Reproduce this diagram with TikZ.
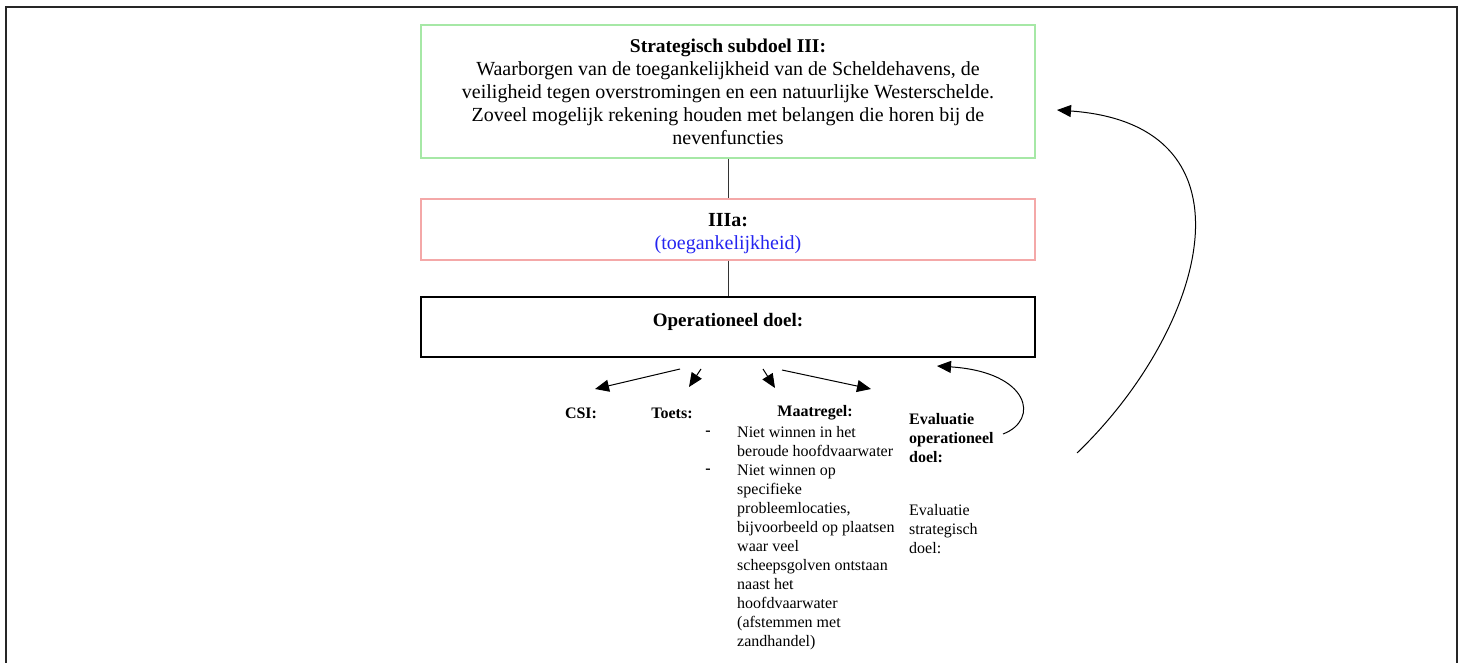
\documentclass[tikz,border=0pt]{standalone}
\usepackage{fontspec}
\setmainfont{Liberation Serif}
\usetikzlibrary{arrows.meta}
\definecolor{boxgreen}{HTML}{A6E8A6}
\definecolor{boxred}{HTML}{F4A8A8}
\definecolor{textblue}{HTML}{2424F0}
\tikzset{
  frame/.style={line width=2.4pt, draw=black!85},
  goalbox/.style={minimum width=614pt, inner sep=0pt, line width=1.4pt},
  link/.style={line width=0.9pt, draw=black!80},
  tri/.style={-{Triangle[length=14pt,width=12pt]}, line width=1pt},
  boxtext/.style={inner sep=0pt, align=center, font=\fontsize{20}{23}\selectfont},
  smalltext/.style={inner sep=0pt, align=left, font=\fontsize{16}{19}\selectfont},
  smallbold/.style={smalltext, font=\fontsize{16}{19}\selectfont\bfseries},
}
\begin{document}
\begin{tikzpicture}[x=1pt,y=-1pt]
\useasboundingbox (0,0) rectangle (1462,663);
% page frame, open at the bottom
\draw[frame] (6,663) -- (6,7) -- (1457,7) -- (1457,663);

% goal boxes
\node[goalbox, draw=boxgreen, minimum height=133pt] (strat) at (728,91.5) {};
\node[goalbox, draw=boxred, minimum height=61pt] (sub) at (728,229.5) {};
\node[goalbox, draw=black, line width=1.8pt, minimum height=60pt] (oper) at (728,327) {};

\node[boxtext, anchor=north] (strattxt) at (728,39) {{\fontsize{19.5}{23}\selectfont\bfseries Strategisch subdoel III:}\\
Waarborgen van de toegankelijkheid van de Scheldehavens, de\\
veiligheid tegen overstromingen en een natuurlijke Westerschelde.\\
Zoveel mogelijk rekening houden met belangen die horen bij de\\
nevenfuncties};
\node[boxtext, anchor=north] (subtxt) at (728,213) {\textbf{IIIa:}\\\textcolor{textblue}{(toegankelijkheid)}};
\node[boxtext, anchor=north, font=\fontsize{19}{23}\selectfont\bfseries] (opertxt) at (728,313) {Operationeel doel:};

\draw[link] (strat.south) -- (sub.north);
\draw[link] (sub.south) -- (oper.north);

% elements below the operational goal
\node[smallbold] (csi) at (581,413) {CSI:};
\node[smallbold] (toets) at (672,413) {Toets:};
\node[smallbold] (maat) at (815,413) {Maatregel:};

\node[smallbold] (dash1) at (708,433) {-};
\node[smallbold] (dash2) at (708,471) {-};
\node[smalltext, anchor=north west] (maatlist) at (737,426) {Niet winnen in het\\
beroude hoofdvaarwater\\
Niet winnen op\\
specifieke\\
probleemlocaties,\\
bijvoorbeeld op plaatsen\\
waar veel\\
scheepsgolven ontstaan\\
naast het\\
hoofdvaarwater\\
(afstemmen met\\
zandhandel)};

\node[smallbold, anchor=north west] (evop) at (909,413) {Evaluatie\\operationeel\\doel:};
\node[smalltext, anchor=north west] (evstr) at (909,504) {Evaluatie\\strategisch\\doel:};

% short arrows fanning out from the operational goal
\coordinate (a1s) at (680,369); \coordinate (a1e) at (595,389);
\coordinate (a2s) at (701,369); \coordinate (a2e) at (689,387);
\coordinate (a3s) at (763,369); \coordinate (a3e) at (775,388);
\coordinate (a4s) at (782,370); \coordinate (a4e) at (871,389);
\draw[tri] (a1s) -- (a1e);
\draw[tri] (a2s) -- (a2e);
\draw[tri] (a3s) -- (a3e);
\draw[tri] (a4s) -- (a4e);

% feedback loops
\coordinate (loopA) at (1003,434);
\coordinate (loopAend) at (937,366);
\draw[tri] (loopA) .. controls (1040,420) and (1030,372) .. (loopAend);

\coordinate (loopB) at (1077,453);
\coordinate (loopBend) at (1057,110);
\draw[tri] (loopB) .. controls (1205,330) and (1265,125) .. (loopBend);
\end{tikzpicture}
\end{document}
